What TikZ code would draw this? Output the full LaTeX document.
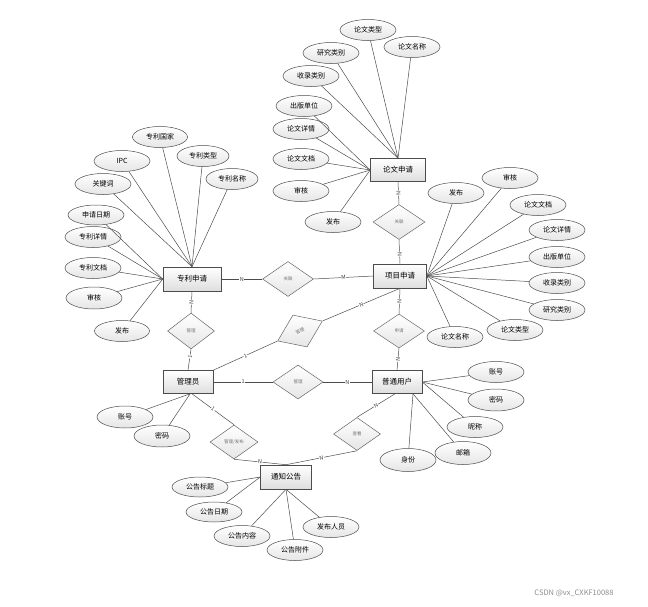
\documentclass[tikz,border=0pt]{standalone}
\usepackage{fontspec}
\newfontfamily\cjk{Noto Sans CJK SC}
\usetikzlibrary{shapes.geometric}
\begin{document}
\begin{tikzpicture}[x=1pt,y=-1pt,
  ent/.style={rectangle, draw=black!70, line width=0.6pt, top color=white, bottom color=black!13, minimum width=54pt, minimum height=23pt, inner sep=0pt, font=\cjk\fontsize{7.5}{8}\selectfont},
  attr/.style={ellipse, draw=black!70, line width=0.5pt, top color=white, bottom color=black!10, minimum width=56pt, minimum height=21pt, inner sep=0pt, font=\cjk\fontsize{7}{8}\selectfont},
  rel/.style={diamond, draw=black!60, line width=0.5pt, top color=white, bottom color=black!10, minimum width=50pt, minimum height=35pt, inner sep=0pt, font=\cjk\fontsize{4.5}{5}\selectfont, text=black!55},
  conn/.style={draw=black!70, line width=0.5pt},
  card/.style={fill=white, inner sep=0.5pt, font=\cjk\fontsize{5.5}{6}\selectfont, text=black!75, sloped},
]
\useasboundingbox (0,0) rectangle (648,606);

% entities
\node[ent, minimum width=55pt] (lw) at (398,170) {论文申请};
\node[ent, minimum width=58pt, minimum height=24pt] (zl) at (192,279) {专利申请};
\node[ent, minimum width=53pt, minimum height=24pt] (xm) at (400,276) {项目申请};
\node[ent, minimum width=50pt] (gly) at (188,382) {管理员};
\node[ent, minimum width=50pt] (pt) at (397,382) {普通用户};
\node[ent, minimum width=51pt, minimum height=24pt] (tz) at (286,477) {通知公告};

% relationships
\node[rel, minimum width=51pt] (r1) at (288,279) {关联};
\node[rel, minimum width=52pt] (r2) at (399,222) {关联};
\node[rel, minimum width=47pt, minimum height=36pt] (r3) at (191,331) {管理};
\node[rel, minimum width=49pt, rotate=24] (r4) at (300,331) {管理};
\node[rel, minimum width=51pt, minimum height=34pt] (r5) at (399,331) {申请};
\node[rel, minimum width=50pt, minimum height=34pt] (r6) at (298,382) {管理};
\node[rel, minimum width=48pt, minimum height=34pt] (r7) at (234,442) {管理/发布};
\node[rel, minimum width=47pt, minimum height=33pt] (r8) at (357,434) {查看};

% attributes of 论文申请
\node[attr] (lw1) at (368,30) {论文类型};
\node[attr] (lw2) at (412,47) {论文名称};
\node[attr] (lw3) at (331,53) {研究类别};
\node[attr] (lw4) at (311,76) {收录类别};
\node[attr] (lw5) at (304,106) {出版单位};
\node[attr] (lw6) at (301,129) {论文详情};
\node[attr] (lw7) at (301,159) {论文文档};
\node[attr] (lw8) at (301,191) {审核};
\node[attr] (lw9) at (333,222) {发布};

% attributes of 专利申请
\node[attr, minimum width=55pt] (zl1) at (160,137) {专利国家};
\node[attr, minimum width=52pt] (zl2) at (203,156) {专利类型};
\node[attr] (zl3) at (122,161) {IPC};
\node[attr, minimum width=52pt] (zl4) at (232,179) {专利名称};
\node[attr] (zl5) at (103,184) {关键词};
\node[attr, minimum height=20pt] (zl6) at (96,215) {申请日期};
\node[attr] (zl7) at (93,237) {专利详情};
\node[attr] (zl8) at (93,268) {专利文档};
\node[attr, minimum height=22pt] (zl9) at (94,298) {审核};
\node[attr, minimum width=55pt] (zl10) at (122,331) {发布};

% attributes of 项目申请
\node[attr] (xm1) at (456,193) {发布};
\node[attr] (xm2) at (510,178) {审核};
\node[attr] (xm3) at (538,205) {论文文档};
\node[attr] (xm4) at (557,230) {论文详情};
\node[attr] (xm5) at (557,257) {出版单位};
\node[attr] (xm6) at (557,283) {收录类别};
\node[attr] (xm7) at (557,310) {研究类别};
\node[attr] (xm8) at (515,330) {论文类型};
\node[attr] (xm9) at (455,337) {论文名称};

% attributes of 管理员
\node[attr, minimum height=22pt] (g1) at (125,417) {账号};
\node[attr, minimum height=22pt] (g2) at (162,436) {密码};

% attributes of 普通用户
\node[attr] (p1) at (496,372) {账号};
\node[attr, minimum height=22pt] (p2) at (496,400) {密码};
\node[attr] (p3) at (475,427) {昵称};
\node[attr, minimum height=23pt] (p4) at (463,453) {邮箱};
\node[attr, minimum height=23pt] (p5) at (408,460) {身份};

% attributes of 通知公告
\node[attr, minimum height=20pt] (t1) at (200,487) {公告标题};
\node[attr, minimum height=20pt] (t2) at (214,512) {公告日期};
\node[attr] (t3) at (242,536) {公告内容};
\node[attr] (t4) at (295,550) {公告附件};
\node[attr] (t5) at (331,527) {发布人员};

% attribute links
\foreach \a in {lw1,lw2,lw3,lw4} \draw[conn] (\a) -- (lw.north);
\foreach \a in {lw5,lw6,lw7,lw8,lw9} \draw[conn] (\a) -- (lw.west);
\foreach \a in {zl1,zl2,zl3,zl4,zl5} \draw[conn] (\a) -- (zl.north);
\foreach \a in {zl6,zl7,zl8,zl9,zl10} \draw[conn] (\a) -- (zl.west);
\foreach \a in {xm1,xm2,xm3,xm4,xm5,xm6,xm7,xm8,xm9} \draw[conn] (\a) -- (xm.east);
\foreach \a in {g1,g2} \draw[conn] (\a) -- ([xshift=2pt]gly.south);
\foreach \a in {p1,p2,p3} \draw[conn] (\a) -- (pt.east);
\foreach \a in {p4,p5} \draw[conn] (\a) -- ([xshift=16pt]pt.south);
\foreach \a in {t1,t2} \draw[conn] (\a) -- (tz.west);
\foreach \a in {t3,t4,t5} \draw[conn] (\a) -- (tz.south);

% relationship links
\draw[conn] (zl.east) -- node[card]{N} (r1.west);
\draw[conn] (r1.east) -- node[card]{M} (xm.west);
\draw[conn] (lw.south) -- node[card]{N} (r2.north);
\draw[conn] (r2.south) -- node[card, pos=0.6]{N} (xm.north);
\draw[conn] (xm.south) -- node[card]{N} (r5.north);
\draw[conn] (r5.south) -- node[card]{N} (pt.north);
\draw[conn] (zl.south) -- node[card]{N} (r3.north);
\draw[conn] (r3.south) -- node[card, pos=0.35]{1} (gly.north);
\draw[conn] (gly.north east) -- node[card]{1} (r4.west);
\draw[conn] (r4.east) -- node[card]{N} (xm.south);
\draw[conn] (gly.east) -- node[card]{1} (r6.west);
\draw[conn] (r6.east) -- node[card]{N} (pt.west);
\draw[conn] ([xshift=4pt]gly.south) -- node[card]{1} (r7.north);
\draw[conn] (r7.south) -- node[card]{N} (tz.north);
\draw[conn] ([xshift=-2pt]pt.south) -- node[card]{N} (r8.north);
\draw[conn] (r8.south) -- node[card]{N} (tz.north);

% watermark
\node[font=\cjk\fontsize{7.5}{8}\selectfont, text=black!45] (wm) at (574,593) {CSDN @vx\_CXKF10088};
\end{tikzpicture}
\end{document}
